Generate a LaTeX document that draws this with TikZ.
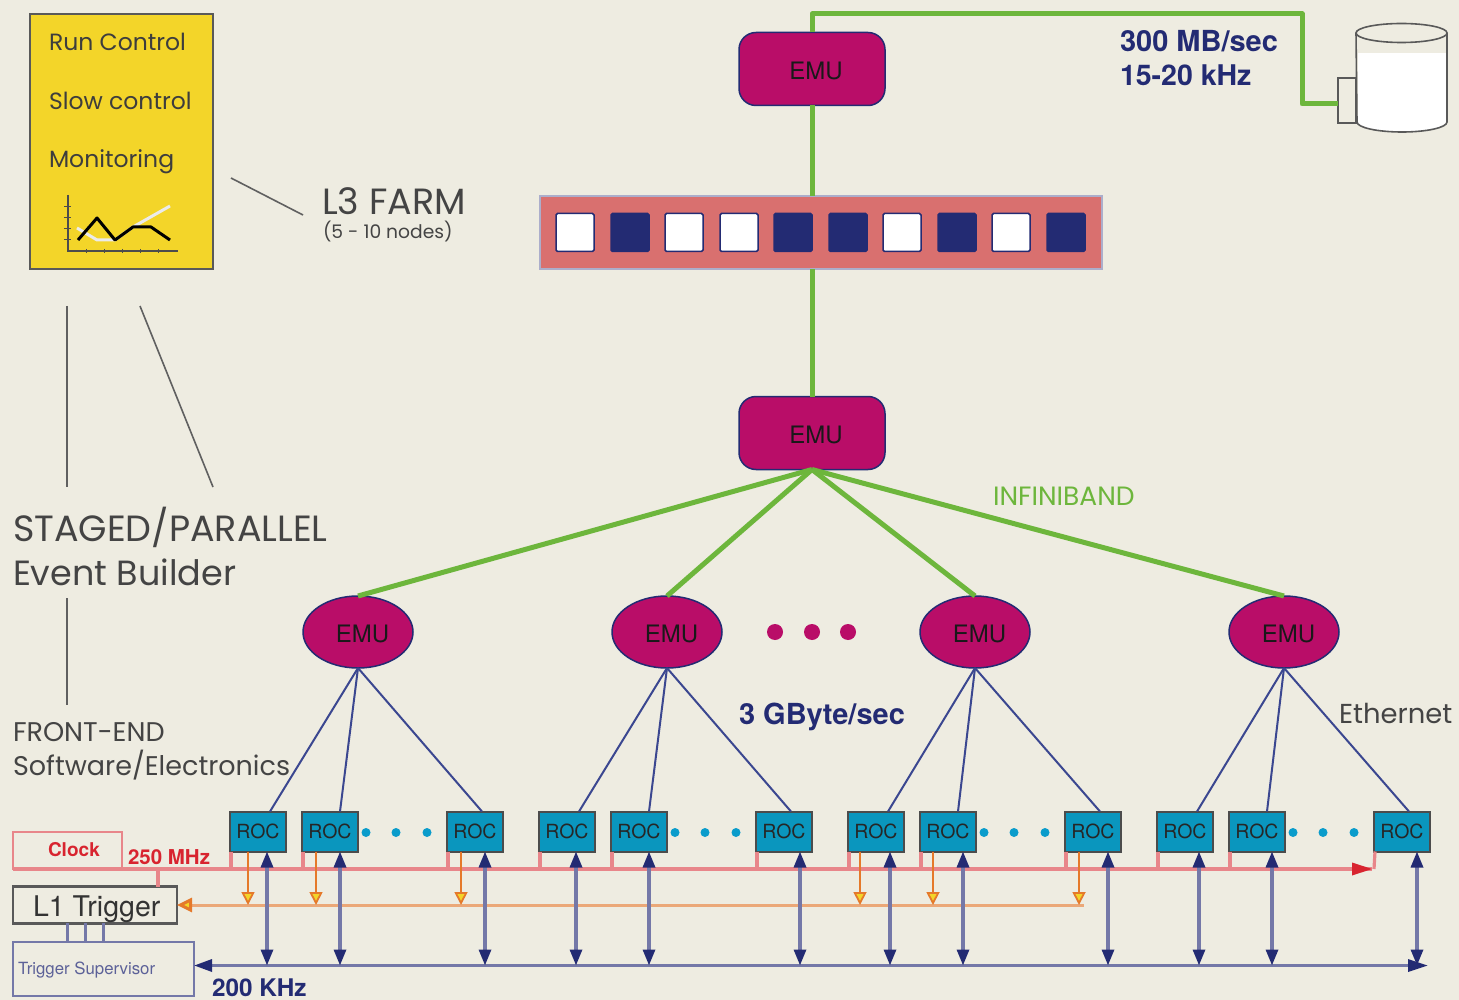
\documentclass[tikz,border=0pt]{standalone}
\usepackage{fontspec}
\setmainfont{TeX Gyre Heros}
\newfontfamily\gothic{Poppins}
\usetikzlibrary{arrows.meta,calc,shapes.geometric}
\definecolor{bgc}{HTML}{EEECE1}
\definecolor{emuc}{HTML}{B90D68}
\definecolor{navyc}{HTML}{232B73}
\definecolor{bluel}{HTML}{7478A8}
\definecolor{wirec}{HTML}{3B4790}
\definecolor{greenc}{HTML}{6DB63C}
\definecolor{rocc}{HTML}{0A96BE}
\definecolor{redc}{HTML}{E8868A}
\definecolor{redt}{HTML}{D8242F}
\definecolor{orgl}{HTML}{EBA878}
\definecolor{orgd}{HTML}{E5792A}
\definecolor{ylw}{HTML}{F3D529}
\definecolor{farmc}{HTML}{D9706F}
\definecolor{graytxt}{HTML}{444444}
\definecolor{dotb}{HTML}{0A9CCB}
\tikzset{
  emubox/.style={draw=navyc,line width=1.5pt,fill=emuc,rounded corners=17pt,minimum width=146pt,minimum height=73pt,inner sep=0pt,outer sep=0pt,text=black!90,font=\fontsize{24}{24}\selectfont,text height=21pt,text depth=0pt},
  emuoval/.style={ellipse,draw=navyc,line width=1.5pt,fill=emuc,minimum width=110pt,minimum height=72pt,inner sep=0pt,outer sep=0pt,text=black!90,font=\fontsize{24}{24}\selectfont,text height=21pt,text depth=0pt},
  rocbox/.style={draw=black!70,line width=2pt,fill=rocc,minimum width=56pt,minimum height=40pt,inner sep=0pt,outer sep=0pt,text=black!85,font=\fontsize{19.5}{20}\selectfont},
  green wire/.style={draw=greenc,line width=5pt},
  eth/.style={draw=wirec,line width=2pt},
  clk/.style={draw=redc,line width=3.2pt},
  trig/.style={draw=orgl,line width=3pt},
  trigdown/.style={draw=orgd,line width=1.8pt,-{Triangle[length=13pt,width=13pt,color=orgd,fill=ylw]}},
  dual/.style={draw=bluel,line width=3.2pt,{Triangle[length=16pt,width=12pt,color=navyc]}-{Triangle[length=16pt,width=12pt,color=navyc]}},
  note/.style={draw=graytxt!85,line width=1.6pt},
  lbl/.style={anchor=base west,inner sep=0pt,outer sep=0pt},
  slot/.style={draw=navyc,line width=1.5pt,minimum width=38pt,minimum height=38pt,rounded corners=1.5pt,inner sep=0pt},
  dotm/.style={circle,fill=emuc,minimum size=16pt,inner sep=0pt},
  dotc/.style={circle,fill=dotb,minimum size=9pt,inner sep=0pt},
}
\begin{document}
\begin{tikzpicture}[x=1pt,y=-1pt]
\useasboundingbox[fill=bgc] (0,0) rectangle (1459,1000);
% control box
\node[draw=black!65,line width=2pt,fill=ylw,minimum width=183pt,minimum height=255pt,inner sep=0pt,outer sep=0pt] (ctrl) at (121.5,141.5) {};
\node[lbl,text=graytxt!90!black,font=\gothic\fontsize{23.5}{23}\selectfont] (t1) at (49,51) {Run Control};
\node[lbl,text=graytxt!90!black,font=\gothic\fontsize{23.5}{23}\selectfont] (t2) at (49,110) {Slow control};
\node[lbl,text=graytxt!90!black,font=\gothic\fontsize{23.5}{23}\selectfont] (t3) at (49,168) {Monitoring};
% chart
\draw[black!70,line width=1.8pt] (68,195) -- (68,251) -- (178,251);
\foreach \y in {207,218,229,240} \draw[black!70,line width=1pt] (64,\y) -- (71,\y);
\foreach \x in {86,104,122,140,158} \draw[black!70,line width=1pt] (\x,249) -- (\x,253);
\draw[black!8,line width=3pt,line join=round] (77,228) -- (97,240) -- (115,240) -- (133,227) -- (170,206);
\draw[black,line width=3pt,line join=round] (78,240) -- (97,218) -- (115,240) -- (133,227) -- (151,227) -- (170,240);
% left notes
\coordinate (n1a) at (231,178); \coordinate (n1b) at (303,215);
\draw[note] (n1a) -- (n1b);
\coordinate (n2a) at (67,306); \coordinate (n2b) at (67,487);
\draw[note] (n2a) -- (n2b);
\coordinate (n3a) at (140,306); \coordinate (n3b) at (213,487);
\draw[note] (n3a) -- (n3b);
\coordinate (n4a) at (67,598); \coordinate (n4b) at (67,705);
\draw[note] (n4a) -- (n4b);
\node[lbl,text=graytxt,font=\gothic\fontsize{36.5}{36}\selectfont] (l3) at (322,215) {L3 FARM};
\node[lbl,text=graytxt,font=\gothic\fontsize{18.7}{18}\selectfont] (l3b) at (323,239) {(5 - 10 nodes)};
\node[lbl,text=graytxt,font=\gothic\fontsize{36.5}{36}\selectfont] (st1) at (13,541) {STAGED/PARALLEL};
\node[lbl,text=graytxt,font=\gothic\fontsize{35}{35}\selectfont] (st2) at (13,585) {Event Builder};
\node[lbl,text=graytxt,font=\gothic\fontsize{27}{27}\selectfont] (fe1) at (13,741) {FRONT-END};
\node[lbl,text=graytxt,font=\gothic\fontsize{27}{27}\selectfont] (fe2) at (13,775) {Software/Electronics};
\node[lbl,text=graytxt,font=\gothic\fontsize{27.4}{27}\selectfont] (eth) at (1339,723) {Ethernet};
\node[lbl,text=greenc,font=\gothic\fontsize{26.5}{26}\selectfont] (ib) at (993,505) {INFINIBAND};
\node[lbl,text=navyc,font=\bfseries\fontsize{29}{29}\selectfont] (gb) at (739,724) {3 GByte/sec};
\node[lbl,text=navyc,font=\bfseries\fontsize{29}{29}\selectfont] (mb) at (1120,52) {300 MB/sec};
\node[lbl,text=navyc,font=\bfseries\fontsize{28.5}{29}\selectfont] (khz) at (1120,86) {15-20 kHz};
% disk
\fill[white] (1358,53) rectangle (1446,122);
\fill[white] (1357,122) arc[start angle=180,end angle=0,x radius=44.5,y radius=10] -- cycle;
\draw[black!65,line width=1.6pt] (1356,33) -- (1357,122) arc[start angle=180,end angle=0,x radius=45,y radius=10] -- (1447,33);
\draw[black!65,line width=1.6pt] (1401.5,33) ellipse[x radius=45.5,y radius=9.5];
\node[draw=black!65,line width=1.6pt,fill=bgc,minimum width=18pt,minimum height=45pt,inner sep=0pt,outer sep=0pt] (dport) at (1347,100.5) {};
% top level
\node[emubox] (emutop) at (812,69) {\hspace*{8pt}EMU};
\node[emubox] (emumid) at (812,433) {\hspace*{8pt}EMU};
\node[draw=bluel!60,line width=1.5pt,fill=farmc,minimum width=562pt,minimum height=73pt,inner sep=0pt,outer sep=0pt] (farm) at (821,232.5) {};
\foreach \i/\x/\c in {1/575/white,2/630/navyc,3/684/white,4/739/white,5/793/navyc,6/848/navyc,7/902/white,8/957/navyc,9/1011/white,10/1066/navyc}
  \node[slot,fill=\c] (s\i) at (\x,232.5) {};
\coordinate (gtopa) at (812,33);
\draw[green wire,line join=round] (emutop.north -| gtopa) -- (812,14) -- (1302,14) -- (1302,104) -- (dport.west |- 0,104);
\draw[green wire] (emutop.south -| gtopa) -- (farm.north -| gtopa);
\draw[green wire] (farm.south -| gtopa) -- (emumid.north -| gtopa);
% EMU ovals and ROCs
\foreach \g/\cx/\lx in {1/358/230,2/667/539,3/975/848,4/1284/1157}{
  \node[emuoval] (e\g) at (\cx,632) {\hspace*{9pt}EMU};
  \draw[green wire] (emumid.south) -- (e\g.north);
  \node[rocbox] (r\g a) at ({\lx+28},831.5) {ROC};
  \node[rocbox] (r\g b) at ({\lx+100},831.5) {ROC};
  \node[rocbox] (r\g c) at ({\lx+245},831.5) {ROC};
  \draw[eth] (e\g.south) -- ([xshift=12pt]r\g a.north);
  \draw[eth] (e\g.south) -- ([xshift=10pt]r\g b.north);
  \draw[eth] (e\g.south) -- ([xshift=7pt]r\g c.north);
  \node[dotc] (da\g) at ({\lx+136},832.5) {};
  \node[dotc] (db\g) at ({\lx+166},832.5) {};
  \node[dotc] (dc\g) at ({\lx+197},832.5) {};
}
\node[dotm] (m1) at (775,632) {};
\node[dotm] (m2) at (812,632) {};
\node[dotm] (m3) at (848,632) {};
% trigger boxes
\node[draw=redc,line width=2.4pt,minimum width=109pt,minimum height=37pt,inner sep=0pt,outer sep=0pt] (clock) at (67.5,850.5) {};
\node[lbl,text=redt,font=\bfseries\fontsize{19}{19}\selectfont] (clockt) at (48,856) {Clock};
\node[lbl,text=redt,font=\bfseries\fontsize{20.5}{20}\selectfont] (mhz) at (128,864) {250 MHz};
\node[draw=black!65,line width=2.4pt,minimum width=164pt,minimum height=37pt,inner sep=0pt,outer sep=0pt] (l1) at (95,905) {};
\node[lbl,text=black!80,font=\fontsize{28.5}{28}\selectfont] (l1t) at (33,916) {L1 Trigger};
\node[draw=bluel,line width=2.6pt,minimum width=181pt,minimum height=54pt,inner sep=0pt,outer sep=0pt] (ts) at (103.5,969) {};
\node[lbl,text=bluel!70!navyc,font=\fontsize{16.8}{17}\selectfont] (tst) at (18,974) {Trigger Supervisor};
\node[lbl,text=navyc,font=\bfseries\fontsize{24.3}{24}\selectfont] (khz2) at (212,996) {200 KHz};
\foreach \x in {67,85,103}{
  \coordinate (lk\x) at (\x,923);
  \draw[draw=bluel,line width=3pt] (lk\x) -- (lk\x |- ts.north);
}
% clock line
\coordinate (clkend) at (1372,869);
\draw[clk] (clock.south west) -- (clkend);
\draw[draw=redt,line width=0pt,-{Triangle[length=20pt,width=13pt,color=redt]}] (1352,869) -- (clkend);
\draw[clk] (1374,869) -- ([xshift=-27pt]r4c.south);
\coordinate (riser) at (158,869);
\draw[clk] (riser) -- (riser |- l1.north);
\foreach \g in {1,2,3,4}{
  \foreach \b in {a,b}{
    \draw[clk] ([xshift=-27pt]r\g\b.south) -- ++(0,18);
  }
}
\foreach \g in {1,2,3} \draw[clk] ([xshift=-27pt]r\g c.south) -- ++(0,18);
% trigger line
\coordinate (trigend) at (1084,905);
\draw[trig,{Triangle[length=15pt,width=14pt,color=orgd,fill=ylw]}-] (l1.east) -- (trigend);
\foreach \n/\dx in {r1a/-10,r1b/-14,r1c/-14,r3a/-16,r3b/-15,r3c/-14}{
  \coordinate (tt\n) at ([xshift=\dx pt]\n.south |- trigend);
  \draw[trigdown] ([xshift=\dx pt]\n.south) -- (tt\n);
}
% bus
\coordinate (busend) at (1428,965.5);
\coordinate (busstart) at (ts.east |- busend);
\draw[draw=bluel,line width=3.2pt,{Triangle[length=18pt,width=12pt,color=navyc]}-{Triangle[length=20pt,width=12pt,color=navyc]}] (busstart) -- (busend);
\foreach \n/\dx in {r1a/9,r1b/10,r1c/10,r2a/9,r2b/10,r2c/16,r3a/14,r3b/15,r3c/15,r4a/14,r4b/15,r4c/15}{
  \coordinate (bb\n) at ([xshift=\dx pt]\n.south |- busend);
  \draw[dual] ([xshift=\dx pt]\n.south) -- (bb\n);
}
\end{tikzpicture}
\end{document}
